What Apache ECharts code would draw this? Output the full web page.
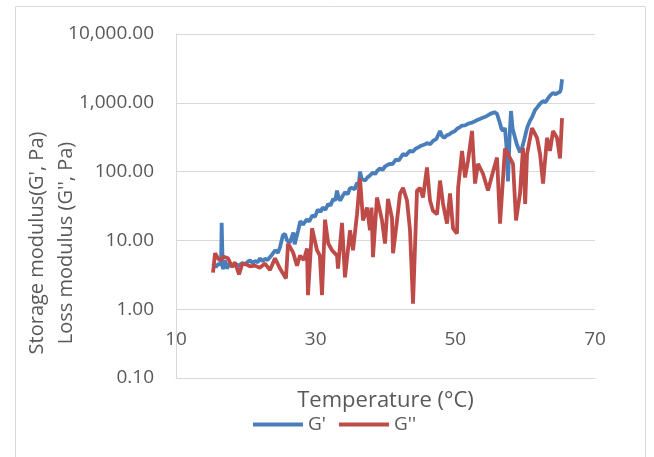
<!DOCTYPE html>
<html>
<head>
<meta charset="utf-8">
<script src="https://cdn.jsdelivr.net/npm/echarts@6/dist/echarts.min.js"></script>
<style>
  html, body { margin: 0; padding: 0; background: #fff; }
  #chart { width: 654px; height: 457px; }
</style>
</head>
<body>
<div id="chart"></div>
<script>
// [temperature (°C), modulus (Pa)]
var storageModulus = [
    [15.3, 4.6], [15.7, 4.1], [16.1, 4.6], [16.45, 4.4], [16.54, 18], [16.7, 3.8],
    [17.0, 5.1], [17.3, 3.9], [17.7, 4.7], [18.1, 4.2], [18.5, 4.5], [19.0, 4.3],
    [19.5, 4.7], [19.9, 4.5], [20.3, 4.9], [20.6, 5.1], [21.0, 4.7], [21.3, 5.0],
    [21.7, 4.8], [22.0, 5.5], [22.4, 5.0], [22.75, 5.4], [23.1, 5.2], [23.5, 5.8],
    [23.8, 6.3], [24.2, 7.2], [24.6, 6.6], [24.9, 8.0], [25.3, 11.8], [25.6, 12.5],
    [25.9, 10], [26.3, 9.3], [26.8, 13], [27.0, 8.8], [27.5, 14], [27.8, 19],
    [28.2, 17], [28.7, 20], [29.1, 19], [29.5, 23], [29.9, 22], [30.3, 28],
    [30.7, 26], [31.0, 30], [31.4, 28], [31.8, 34], [32.1, 32], [32.5, 40],
    [32.8, 38], [33.06, 53], [33.3, 41], [33.5, 38], [33.9, 45], [34.2, 50],
    [34.6, 47], [34.9, 57], [35.2, 58], [35.6, 55], [35.9, 68], [36.2, 66],
    [36.35, 100], [36.6, 78], [37.07, 74], [37.4, 82], [37.78, 88], [38.2, 97],
    [38.5, 92], [38.8, 102], [39.2, 111], [39.6, 106], [39.9, 118], [40.3, 125],
    [40.65, 130], [41.0, 128], [41.5, 150], [41.9, 145], [42.5, 180], [42.9, 172],
    [43.5, 200], [43.9, 195], [44.3, 215], [44.7, 225], [45.0, 235], [45.5, 245],
    [45.94, 260], [46.4, 250], [46.8, 280], [47.3, 300], [47.81, 390], [48.1, 330],
    [48.4, 310], [48.8, 340], [49.1, 345], [49.5, 370], [49.95, 390], [50.24, 420],
    [50.6, 440], [50.96, 465], [51.4, 470], [51.9, 500], [52.39, 515], [52.8, 540],
    [53.1, 560], [53.5, 580], [53.82, 600], [54.2, 620], [54.6, 650], [55.0, 690],
    [55.25, 710], [55.6, 730], [55.97, 690], [56.2, 700], [56.4, 500], [56.6, 420],
    [56.83, 390], [57.1, 430], [57.3, 250], [57.54, 72], [57.8, 380], [57.97, 760],
    [58.2, 420], [58.4, 355], [58.8, 250], [59.26, 190], [59.55, 220], [59.9, 300],
    [60.27, 430], [60.69, 550], [61.0, 620], [61.4, 780], [61.7, 850], [62.1, 960],
    [62.56, 1060], [62.9, 1020], [63.13, 1070], [63.5, 1250], [63.99, 1400], [64.3, 1330],
    [64.7, 1400], [65.0, 1450], [65.13, 1600], [65.28, 2200]
];

var lossModulus = [
    [15.3, 3.4], [15.59, 6.5], [16.0, 5.5], [16.3, 5.1], [16.8, 5.8], [17.45, 5.5],
    [18.02, 4.1], [18.45, 4.8], [19.02, 3.2], [19.5, 4.6], [20.0, 4.5], [20.6, 4.2],
    [21.3, 4.3], [22.0, 4.0], [22.75, 4.6], [23.46, 3.7], [24.18, 5.5], [24.89, 3.9],
    [25.75, 2.8], [26.04, 9], [26.76, 6.7], [27.33, 4.3], [27.76, 6], [28.3, 5.2],
    [28.76, 7.6], [28.9, 1.6], [29.48, 15], [30.19, 7.2], [30.6, 6], [30.91, 1.6],
    [31.34, 20], [31.8, 9], [32.34, 7.2], [33.06, 6], [33.2, 3.9], [33.77, 18],
    [34.2, 2.9], [34.92, 14], [35.35, 7.2], [35.92, 24], [36.35, 80], [36.78, 19.5],
    [37.35, 30], [37.78, 14], [38.0, 30], [38.21, 5.7], [38.78, 42], [39.5, 19.5],
    [39.93, 9], [40.36, 40], [40.93, 21], [41.08, 6.5], [41.65, 19.5], [42.08, 48],
    [42.51, 58], [43.08, 38], [43.51, 14], [43.94, 1.2], [44.51, 53], [44.94, 58],
    [45.37, 42], [45.94, 115], [46.37, 38], [46.8, 27], [47.38, 24], [47.81, 74],
    [48.24, 34], [48.81, 17.5], [49.24, 48], [49.67, 15], [50.24, 12.6], [50.4, 58],
    [50.96, 200], [51.39, 82], [51.82, 145], [52.39, 390], [52.82, 67], [53.25, 130],
    [53.96, 93], [54.68, 53], [55.4, 100], [55.97, 160], [56.4, 17.5], [57.11, 215],
    [57.54, 180], [58.26, 130], [58.69, 19.5], [59.26, 48], [59.69, 220], [60.0, 34],
    [60.27, 180], [60.98, 430], [61.7, 310], [62.13, 180], [62.56, 67], [63.13, 310],
    [63.56, 200], [63.99, 390], [64.56, 310], [64.99, 155], [65.28, 600]
];

var seriesNames = ["G'", "G''"];
var seriesColors = ['#4a7ebb', '#be4b48'];

var myChart = echarts.init(document.getElementById('chart'));

function fmt(v) {
    return Number(v).toLocaleString('en-US', {minimumFractionDigits: 2, maximumFractionDigits: 2});
}

var option = {
    animation: false,
    textStyle: { fontFamily: 'Open Sans' },
    grid: { left: 176, top: 34, right: 59, bottom: 79 },
    graphic: [
        {
            type: 'rect',
            shape: { x: 15.5, y: 6.5, width: 630, height: 470 },
            style: { fill: 'none', stroke: '#d9d9d9', lineWidth: 1 },
            silent: true
        },
        {
            type: 'text',
            x: 52,
            y: 243,
            rotation: Math.PI / 2,
            style: {
                text: "Storage modulus(G', Pa)\nLoss modulus (G'', Pa)",
                fill: '#595959',
                font: '20px "Open Sans"',
                align: 'center',
                verticalAlign: 'middle',
                lineHeight: 29
            }
        }
    ],
    legend: {
        left: 248,
        top: 410,
        icon: 'rect',
        itemWidth: 50,
        itemHeight: 4,
        itemGap: 13,
        textStyle: { color: '#595959', fontSize: 19, fontFamily: 'Open Sans' },
        data: seriesNames
    },
    xAxis: {
        type: 'value',
        min: 10,
        max: 70,
        interval: 20,
        name: 'Temperature (°C)',
        nameLocation: 'middle',
        nameGap: 12,
        nameTextStyle: { color: '#595959', fontSize: 22, fontFamily: 'Open Sans' },
        axisLine: { show: true, lineStyle: { color: '#d9d9d9' } },
        axisTick: { show: false },
        splitLine: { show: false },
        axisLabel: {
            color: '#595959',
            fontSize: 19,
            margin: -38,
            verticalAlign: 'middle'
        }
    },
    yAxis: {
        type: 'log',
        logBase: 10,
        min: 0.1,
        max: 10000,
        axisLine: { show: true, lineStyle: { color: '#d9d9d9' } },
        axisTick: { show: false },
        splitLine: { show: true, lineStyle: { color: '#d9d9d9' } },
        axisLabel: {
            color: '#595959',
            fontSize: 19,
            margin: 22,
            formatter: fmt
        }
    },
    series: [
        {
            name: seriesNames[0],
            type: 'line',
            data: storageModulus,
            showSymbol: false,
            color: seriesColors[0],
            lineStyle: { width: 3.8, color: seriesColors[0] }
        },
        {
            name: seriesNames[1],
            type: 'line',
            data: lossModulus,
            showSymbol: false,
            color: seriesColors[1],
            lineStyle: { width: 3.8, color: seriesColors[1] }
        }
    ]
};
myChart.setOption(option);
</script>
</body>
</html>
